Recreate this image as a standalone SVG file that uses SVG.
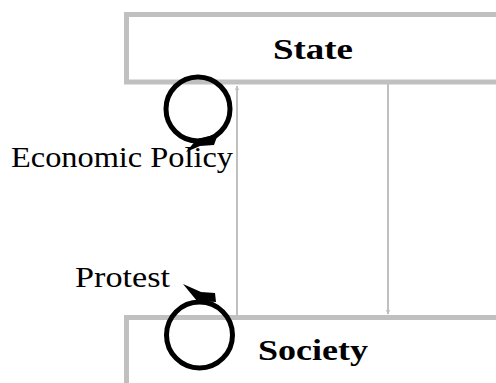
<svg xmlns="http://www.w3.org/2000/svg" width="496" height="383" viewBox="0 0 496 383">
<style>
.box{fill:#fff;stroke:#c0c0c0;stroke-width:5}
.lbl{font-family:"Liberation Serif",serif;font-size:28.5px;fill:#000}
.title{font-family:"Liberation Serif",serif;font-size:29px;font-weight:bold;fill:#000;text-anchor:start}
.conn{stroke:#c0c0c0;stroke-width:2;fill:none;marker-end:url(#ah)}
.loop{fill:none;stroke:#000;stroke-width:5}
</style>
<defs>
<marker id="ah" viewBox="0 0 10 10" refX="9" refY="5" markerWidth="5" markerHeight="5" markerUnits="userSpaceOnUse" orient="auto">
<path d="M0,0 L10,5 L0,10 L3,5 Z" fill="#c0c0c0"/>
</marker>
</defs>
<rect width="496" height="383" fill="#fff"/>
<g id="state">
<rect class="box" x="126.5" y="14.5" width="400" height="67.5"/>
<text class="title" x="273" y="59" textLength="80" lengthAdjust="spacingAndGlyphs">State</text>
</g>
<g id="society">
<rect class="box" x="126.5" y="317.5" width="400" height="100"/>
<text class="title" x="258" y="360" textLength="110" lengthAdjust="spacingAndGlyphs">Society</text>
</g>
<g id="connectors">
<line class="conn" x1="237" y1="316" x2="237" y2="86"/>
<line class="conn" x1="388" y1="84" x2="388" y2="314"/>
</g>
<g id="loop-economic-policy">
<circle class="loop" cx="198" cy="109" r="32"/>
<polygon points="218,134 214,145 200,146 186,152 197,139" fill="#000"/>
<text class="lbl" x="11" y="167" textLength="222" lengthAdjust="spacingAndGlyphs">Economic Policy</text>
</g>
<g id="loop-protest">
<circle class="loop" cx="199.5" cy="335" r="33"/>
<polygon points="183,284 201,292 215,293 216,302 197,301" fill="#000"/>
<text class="lbl" x="75" y="287" textLength="95" lengthAdjust="spacingAndGlyphs">Protest</text>
</g>
</svg>
